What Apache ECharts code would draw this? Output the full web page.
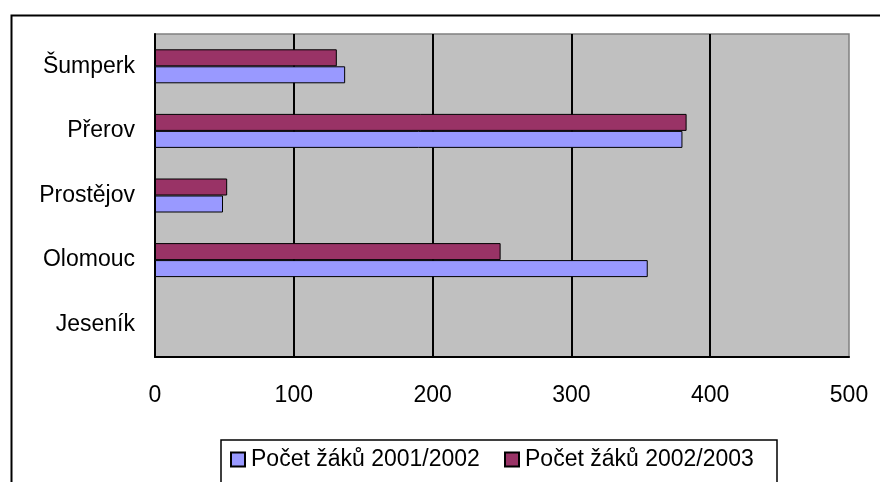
<!DOCTYPE html>
<html>
<head>
<meta charset="utf-8">
<script src="https://cdn.jsdelivr.net/npm/echarts@6/dist/echarts.min.js"></script>
<style>
html,body{margin:0;padding:0;background:#fff;}
#chart{width:880px;height:482px;}
</style>
</head>
<body>
<div id="chart"></div>
<script>
const categories = ['Jeseník', 'Olomouc', 'Prostějov', 'Přerov', 'Šumperk'];
const seriesNames = ['Počet žáků 2001/2002', 'Počet žáků 2002/2003'];
const values2001 = [null, 355, 49, 380, 137];
const values2002 = [null, 249, 52, 383, 131];
const xTicks = [0, 100, 200, 300, 400, 500];

const FONT = '"Liberation Sans", Arial, sans-serif';
const chart = echarts.init(document.getElementById('chart'), null, {renderer: 'canvas'});
chart.setOption({
  backgroundColor: '#ffffff',
  animation: false,
  graphic: [
    {type: 'rect', left: 9, top: 13, shape: {x: 0, y: 0, width: 900, height: 520},
     style: {fill: 'none', stroke: '#000', lineWidth: 2}, z: 0},
    {type: 'rect', shape: {x: 221, y: 440, width: 556, height: 60},
     style: {fill: '#fff', stroke: '#000', lineWidth: 1.5}, z: 1}
  ],
  legend: [
    {data: [seriesNames[0]], left: 230, top: 448, itemWidth: 14, itemHeight: 14, icon: 'rect',
     itemGap: 0, padding: 0, z: 5,
     textStyle: {fontFamily: FONT, fontSize: 23, color: '#000', padding: [0, 0, 0, 1]}},
    {data: [seriesNames[1]], left: 504, top: 448, itemWidth: 14, itemHeight: 14, icon: 'rect',
     itemGap: 0, padding: 0, z: 5,
     textStyle: {fontFamily: FONT, fontSize: 23, color: '#000', padding: [0, 0, 0, 1]}}
  ],
  grid: {left: 155, right: 31, top: 34, bottom: 125, show: true, backgroundColor: '#C0C0C0',
         borderColor: '#808080', borderWidth: 1.5},
  xAxis: {
    type: 'value', min: xTicks[0], max: xTicks[xTicks.length - 1], interval: 100,
    axisLine: {show: true, lineStyle: {color: '#000', width: 2}},
    axisTick: {show: false},
    axisLabel: {fontFamily: FONT, fontSize: 23, color: '#000', margin: 27},
    splitLine: {show: true, showMinLine: false, showMaxLine: false, lineStyle: {color: '#000', width: 2}}
  },
  yAxis: {
    type: 'category', data: categories,
    axisLine: {show: true, lineStyle: {color: '#000', width: 2}},
    axisTick: {show: false},
    axisLabel: {fontFamily: FONT, fontSize: 23, color: '#000', margin: 20},
    splitLine: {show: false}
  },
  series: [
    {name: seriesNames[1], type: 'bar', data: values2002, barWidth: 17, barGap: '0%',
     itemStyle: {color: '#993366', borderColor: '#000', borderWidth: 1}},
    {name: seriesNames[0], type: 'bar', data: values2001, barWidth: 17, barGap: '0%',
     itemStyle: {color: '#9999FF', borderColor: '#000', borderWidth: 1}}
  ]
});
</script>
</body>
</html>
